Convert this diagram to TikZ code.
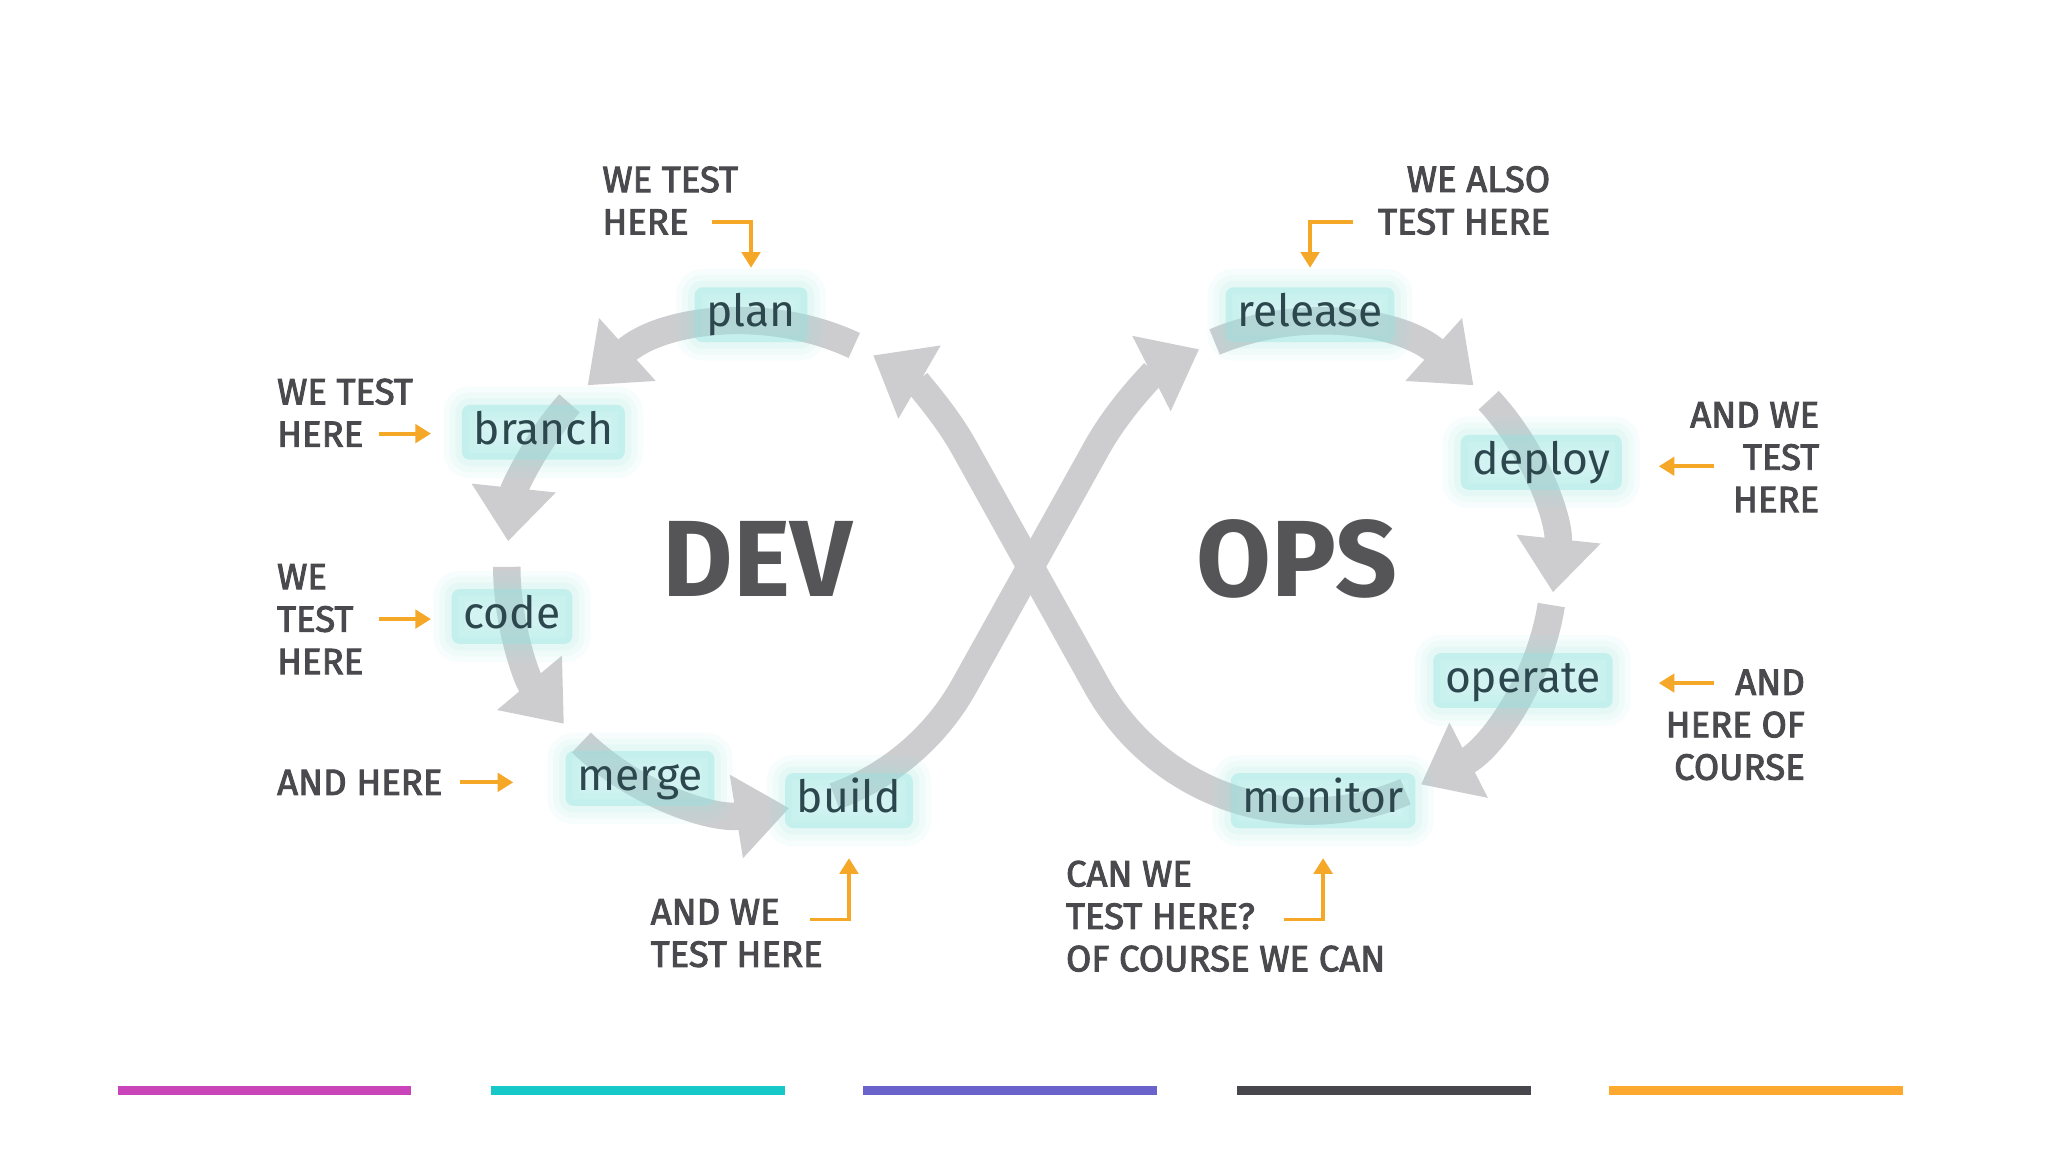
\documentclass[tikz,border=0pt]{standalone}
\usepackage{fontspec}
\setmainfont{Fira Sans}
\newfontfamily\notefont{Fira Sans}[BoldFont={Fira Sans}, BoldFeatures={FakeBold=2.6}]
\usetikzlibrary{calc,arrows.meta}
\definecolor{bandgray}{RGB}{205,205,207}
\definecolor{wordc}{RGB}{44,72,78}
\definecolor{notec}{RGB}{74,74,78}
\definecolor{bigc}{RGB}{85,85,88}
\definecolor{glowc}{RGB}{150,228,224}
\definecolor{testc}{RGB}{245,167,40}
\definecolor{barA}{RGB}{200,68,184}
\definecolor{barB}{RGB}{22,200,200}
\definecolor{barC}{RGB}{107,99,204}
\definecolor{barD}{RGB}{72,70,77}
\definecolor{barE}{RGB}{253,168,47}
\tikzset{
  x=1pt, y=1pt,
  loopband/.style={draw=bandgray, line width=21pt,
    -{Triangle[width=62pt,length=41pt]}},
  word/.style={
    fill=glowc, fill opacity=0.42, text opacity=1,
    text=wordc, rounded corners=6pt,
    inner xsep=9pt, inner ysep=4pt,
    text height=26pt, text depth=8pt,
    font=\fontsize{34}{40}\selectfont,
    preaction={draw=glowc, draw opacity=0.07, line width=28pt},
    preaction={draw=glowc, draw opacity=0.08, line width=19pt},
    preaction={draw=glowc, draw opacity=0.10, line width=10pt}},
  note/.style={text=notec, inner sep=0pt,
    font=\fontsize{28}{32.5}\selectfont\notefont\bfseries},
  bigword/.style={text=bigc, inner sep=0pt,
    font=\fontsize{83}{86}\selectfont\bfseries},
  testarrow/.style={draw=testc, line width=3pt,
    -{Triangle[width=14pt,length=12pt]}},
}
\begin{document}
\begin{tikzpicture}
  \fill[white] (0,0) rectangle (1568,882);
  \useasboundingbox (0,0) rectangle (1568,882);
  \coordinate (cl) at (575,448);
  \coordinate (cr) at (1003,448);

  \draw[loopband] (cl) ++(65:187) arc[start angle=65, end angle=132, radius=187];
  \draw[loopband] (cl) ++(138:187) arc[start angle=138, end angle=174, radius=187];
  \draw[loopband] (cl) ++(180:187) arc[start angle=180, end angle=220, radius=187];
  \draw[loopband] (cl) ++(226:187) arc[start angle=226, end angle=279, radius=187];
  \draw[loopband] (cl) ++(290:187) arc[start angle=290, end angle=330.9, radius=187]
    -- ($(cr)+(150.9:187)$) arc[start angle=150.9, end angle=117, radius=187];
  \draw[loopband] (cr) ++(113:187) arc[start angle=113, end angle=48, radius=187];
  \draw[loopband] (cr) ++(43:187) arc[start angle=43, end angle=-6, radius=187];
  \draw[loopband] (cr) ++(-9:187) arc[start angle=-9, end angle=-63, radius=187];
  \draw[loopband] (cr) ++(-67:187) arc[start angle=-67, end angle=-150.9, radius=187]
    -- ($(cl)+(29.1:187)$) arc[start angle=29.1, end angle=60, radius=187];

  \node[word] (plan) at (575,641) {plan};
  \node[word] (branch) at (416,551) {branch};
  \node[word] (code) at (392,410) {code};
  \node[word] (merge) at (490,286) {merge};
  \node[word] (build) at (650,269) {build};
  \node[word] (release) at (1003,641) {release};
  \node[word] (deploy) at (1180,528) {deploy};
  \node[word] (operate) at (1166,361) {operate};
  \node[word] (monitor) at (1013,269) {monitor};

  \node[bigword] (dev) at (580,454) {DEV};
  \node[bigword] (ops) at (993,454) {OPS};

  \node[note, anchor=west, align=left] (tplan) at (461,728.5) {WE TEST\\HERE};
  \node[note, anchor=west, align=left] (tbranch) at (212,566) {WE TEST\\HERE};
  \node[note, anchor=west, align=left] (tcode) at (212,408) {WE\\TEST\\HERE};
  \node[note, anchor=west, align=left] (tmerge) at (212,283) {AND HERE};
  \node[note, anchor=west, align=left] (tbuild) at (498,167.5) {AND WE\\TEST HERE};
  \node[note, anchor=east, align=right] (trelease) at (1187,728.5) {WE ALSO\\TEST HERE};
  \node[note, anchor=east, align=right] (tdeploy) at (1393,532) {AND WE\\TEST\\HERE};
  \node[note, anchor=east, align=right] (toperate) at (1382,327) {AND\\HERE OF\\COURSE};
  \node[note, anchor=west, align=left] (tmonitor) at (816,180.5) {CAN WE\\TEST HERE?\\OF COURSE WE CAN};

  \coordinate (tplan0) at (545,712);
  \coordinate (tbranch0) at (290,550);
  \coordinate (tcode0) at (290,408);
  \coordinate (tmerge0) at (352,283);
  \coordinate (tbuild0) at (620,178);
  \coordinate (trelease0) at (1036,712);
  \coordinate (tdeploy0) at (1312,525);
  \coordinate (toperate0) at (1312,359);
  \coordinate (tmonitor0) at (983,178);
  \draw[testarrow, shorten >=36pt] (tplan0) -| (plan.center);
  \draw[testarrow, shorten >=86pt] (tbranch0) -- (tbranch0 -| branch.center);
  \draw[testarrow, shorten >=62pt] (tcode0) -- (tcode0 -| code.center);
  \draw[testarrow, shorten >=97pt] (tmerge0) -- (tmerge0 -| merge.center);
  \draw[testarrow, shorten >=44pt] (tbuild0) -| (build.center);
  \draw[testarrow, shorten >=36pt] (trelease0) -| (release.center);
  \draw[testarrow, shorten >=90pt] (tdeploy0) -- (tdeploy0 -| deploy.center);
  \draw[testarrow, shorten >=104pt] (toperate0) -- (toperate0 -| operate.center);
  \draw[testarrow, shorten >=44pt] (tmonitor0) -| (monitor.center);

  \foreach \x/\c in {90/barA, 376/barB, 661/barC, 947/barD, 1232/barE}
    \fill[\c] (\x,43.5) rectangle ++(225,7);
\end{tikzpicture}
\end{document}
